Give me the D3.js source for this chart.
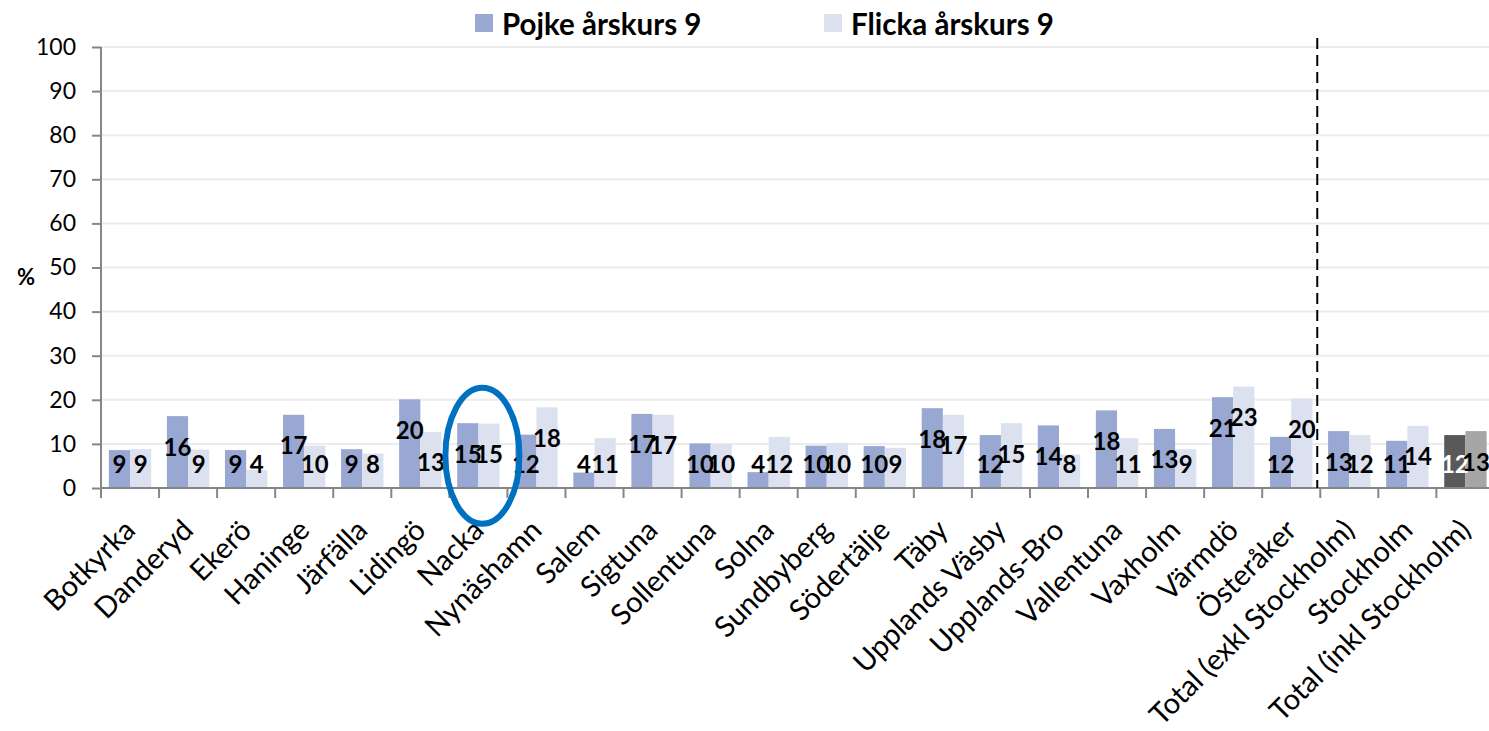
<!DOCTYPE html>
<html>
<head>
<meta charset="utf-8">
<script src="https://cdn.jsdelivr.net/npm/d3@7"></script>
<style>
  body { margin: 0; background: #fff; }
  text { font-family: Lato, "Open Sans", sans-serif; }
</style>
</head>
<body>
<svg id="chart"></svg>
<script>
const width = 1489;
const height = 731;

// Data (percent).
const categories = ["Botkyrka", "Danderyd", "Ekerö", "Haninge", "Järfälla", "Lidingö", "Nacka",
  "Nynäshamn", "Salem", "Sigtuna", "Sollentuna", "Solna", "Sundbyberg", "Södertälje", "Täby",
  "Upplands Väsby", "Upplands-Bro", "Vallentuna", "Vaxholm", "Värmdö", "Österåker",
  "Total (exkl Stockholm)", "Stockholm", "Total (inkl Stockholm)"];
const pojke = [8.6, 16.3, 8.6, 16.6, 8.8, 20.1, 14.7, 12.1, 3.5, 16.8, 10.1, 3.6, 9.6, 9.5, 18.1,
  12.0, 14.2, 17.6, 13.4, 20.6, 11.6, 12.9, 10.7, 12.0];
const flicka = [8.8, 8.7, 4.1, 9.6, 7.8, 12.7, 14.6, 18.3, 11.3, 16.6, 10.0, 11.6, 10.2, 9.1, 16.6,
  14.7, 7.6, 11.3, 8.8, 23.0, 20.3, 12.0, 14.1, 12.9];
const series = ["Pojke årskurs 9", "Flicka årskurs 9"];
const yTicks = [0, 10, 20, 30, 40, 50, 60, 70, 80, 90, 100];

const colors = ["#98a8d2", "#dce1f0"];
const totalColors = ["#595959", "#a6a6a6"];

const margin = {top: 47, left: 101, bottom: 243};
const step = 58.06;

const svg = d3.select("#chart")
    .attr("width", width)
    .attr("height", height);

const x = d3.scaleBand()
    .domain(categories)
    .range([margin.left, margin.left + step * categories.length]);

const x1 = d3.scaleBand()
    .domain(series)
    .range([0, x.bandwidth()])
    .paddingOuter(0.37);

const y = d3.scaleLinear()
    .domain([0, 100])
    .range([height - margin.bottom, margin.top]);

// Gridlines
svg.append("g")
    .selectAll("line")
    .data(yTicks.filter(d => d > 0))
    .join("line")
    .attr("x1", margin.left)
    .attr("x2", width)
    .attr("y1", d => y(d))
    .attr("y2", d => y(d))
    .attr("stroke", "#ececec")
    .attr("stroke-width", 2);

// Bars
const rows = categories.map((c, i) => ({cat: c, i, vals: [pojke[i], flicka[i]]}));
const last = categories[categories.length - 1];

const group = svg.append("g")
    .selectAll("g")
    .data(rows)
    .join("g")
    .attr("transform", d => `translate(${x(d.cat)},0)`);

group.selectAll("rect")
    .data(d => d.vals.map((v, j) => ({cat: d.cat, s: series[j], j, v})))
    .join("rect")
    .attr("x", d => x1(d.s))
    .attr("width", x1.bandwidth())
    .attr("y", d => y(d.v))
    .attr("height", d => y(0) - y(d.v))
    .attr("fill", d => d.cat === last ? totalColors[d.j] : colors[d.j]);

// Value labels
group.selectAll("text")
    .data(d => d.vals.map((v, j) => ({cat: d.cat, s: series[j], j, v})))
    .join("text")
    .attr("x", d => x1(d.s) + x1.bandwidth() / 2)
    .attr("y", d => Math.min(y(d.v) + 30, y(0) - 25))
    .attr("text-anchor", "middle")
    .attr("dominant-baseline", "central")
    .attr("font-size", 24)
    .attr("font-weight", "bold")
    .attr("fill", d => d.cat === last && d.j === 0 ? "#fff" : "#000")
    .text(d => Math.round(d.v));

// Y axis
const yAxis = svg.append("g")
    .attr("transform", `translate(${margin.left},0)`)
    .call(d3.axisLeft(y).tickValues(yTicks).tickSize(9).tickPadding(16));
yAxis.select(".domain").attr("stroke", "#868686").attr("stroke-width", 2)
    .attr("d", `M0,${y(100)}V${y(0) + 10}`);
yAxis.selectAll(".tick line").attr("stroke", "#868686").attr("stroke-width", 2);
yAxis.selectAll(".tick text")
    .attr("font-size", 23)
    .attr("fill", "#000")
    .style("font-family", "Lato, sans-serif");

svg.append("text")
    .attr("x", 26)
    .attr("y", 276)
    .attr("text-anchor", "middle")
    .attr("dominant-baseline", "central")
    .attr("font-size", 22)
    .attr("font-weight", "bold")
    .text("%");

// X axis
const xAxis = svg.append("g");
xAxis.append("line")
    .attr("x1", margin.left)
    .attr("x2", width)
    .attr("y1", y(0))
    .attr("y2", y(0))
    .attr("stroke", "#868686")
    .attr("stroke-width", 2);
xAxis.selectAll(".tk")
    .data(categories.slice(1))
    .join("line")
    .attr("class", "tk")
    .attr("x1", d => x(d))
    .attr("x2", d => x(d))
    .attr("y1", y(0))
    .attr("y2", y(0) + 10)
    .attr("stroke", "#868686")
    .attr("stroke-width", 2);
xAxis.selectAll(".lbl")
    .data(categories)
    .join("text")
    .attr("class", "lbl")
    .attr("transform", d => `translate(${x(d) + x.bandwidth() / 2 + 7},${y(0) + 44}) rotate(-45)`)
    .attr("text-anchor", "end")
    .attr("font-size", 29)
    .text(d => d);

// Dashed separator before the totals
svg.append("line")
    .attr("x1", x("Total (exkl Stockholm)") - 3)
    .attr("x2", x("Total (exkl Stockholm)") - 3)
    .attr("y1", 38)
    .attr("y2", y(0))
    .attr("stroke", "#000")
    .attr("stroke-width", 2)
    .attr("stroke-dasharray", "11,6");

// Highlight ellipse around Nacka
svg.append("ellipse")
    .attr("cx", x("Nacka") + x.bandwidth() / 2 + 4)
    .attr("cy", y(7.3))
    .attr("rx", 37)
    .attr("ry", 68)
    .attr("fill", "none")
    .attr("stroke", "#0070c0")
    .attr("stroke-width", 6);

// Legend
const legend = svg.append("g")
    .selectAll("g")
    .data(series)
    .join("g")
    .attr("transform", (d, i) => `translate(${[475, 824][i]},14)`);
legend.append("rect")
    .attr("width", 18)
    .attr("height", 18)
    .attr("fill", (d, i) => colors[i]);
legend.append("text")
    .attr("x", 27)
    .attr("y", 9)
    .attr("dominant-baseline", "central")
    .attr("font-size", 29.5)
    .attr("font-weight", "bold")
    .text(d => d);
</script>
</body>
</html>
